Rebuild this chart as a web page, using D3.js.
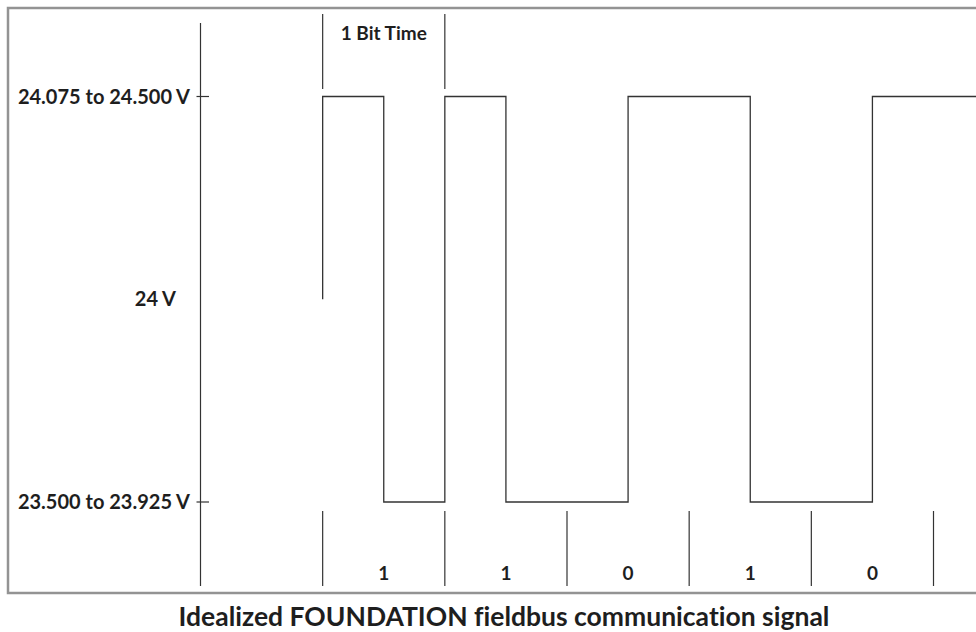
<!DOCTYPE html>
<html>
<head>
<meta charset="utf-8">
<script src="https://cdn.jsdelivr.net/npm/d3@7"></script>
<style>
  body { margin: 0; background: #fff; }
  svg { display: block; }
  .lbl { font-family: "Lato", "DejaVu Sans", sans-serif; font-weight: 700; fill: #1e1e1e; }
  .title { font-family: "Lato", "Open Sans", sans-serif; font-weight: 700; fill: #1e1e1e; font-variant-ligatures: none; }
</style>
</head>
<body>
<div id="chart"></div>
<script>
// voltage levels (nominal values used for placement)
var levelValues = [24.5, 24, 23.5];
var levelLabels = ["24.075 to 24.500 V", "24 V", "23.500 to 23.925 V"];

// bits sent and their labels
var bits = ["1", "1", "0", "1", "0"];

// signal level at each half bit (Manchester coded), starting at bit 0
var halfBitLevels = [24.5, 23.5, 24.5, 23.5, 23.5, 24.5, 24.5, 23.5, 23.5, 24.5, 24.5];
var signalStart = 24;      // signal rises from idle 24 V
var signalEnd = 5.36;      // runs off the right edge

var width = 976, height = 632;

var svg = d3.select("#chart").append("svg")
    .attr("width", width)
    .attr("height", height);

// bit index -> x
var x = d3.scaleLinear().domain([-1, 5]).range([200.5, 933.5]);
// volts -> y
var y = d3.scaleLinear().domain([23.5, 24.5]).range([502, 96.5]);

var ink = "#333";

// frame
svg.append("rect")
    .attr("x", 8).attr("y", 8)
    .attr("width", 1000).attr("height", 585)
    .attr("fill", "none")
    .attr("stroke", "#939393")
    .attr("stroke-width", 2.5);

// left axis line
svg.append("line")
    .attr("x1", x(-1)).attr("x2", x(-1))
    .attr("y1", 23).attr("y2", 586)
    .attr("stroke", ink).attr("stroke-width", 1.2);

// ticks for high / low levels
svg.selectAll(".tick")
    .data([levelValues[0], levelValues[2]])
    .enter().append("line")
    .attr("class", "tick")
    .attr("x1", x(-1) - 4).attr("x2", x(-1) + 8.5)
    .attr("y1", d => y(d)).attr("y2", d => y(d))
    .attr("stroke", ink).attr("stroke-width", 1.2);

// level labels
svg.selectAll(".lvl")
    .data(levelValues)
    .enter().append("text")
    .attr("class", "lbl lvl")
    .attr("x", (d, i) => i == 1 ? 176 : 190)
    .attr("y", d => y(d))
    .attr("dy", "0.35em")
    .attr("text-anchor", "end")
    .style("font-size", "20px")
    .text((d, i) => levelLabels[i]);

// "1 Bit Time" markers
svg.selectAll(".bt")
    .data([0, 1])
    .enter().append("line")
    .attr("class", "bt")
    .attr("x1", d => x(d)).attr("x2", d => x(d))
    .attr("y1", 14).attr("y2", 89)
    .attr("stroke", ink).attr("stroke-width", 1.2);

svg.append("text")
    .attr("class", "lbl")
    .attr("x", x(0.5))
    .attr("y", 33)
    .attr("dy", "0.35em")
    .attr("text-anchor", "middle")
    .style("font-size", "19px")
    .text("1 Bit Time");

// signal waveform
var pts = [{t: 0, v: signalStart}];
halfBitLevels.forEach(function (v, i) {
    pts.push({t: i * 0.5, v: v});
});
pts.push({t: signalEnd, v: halfBitLevels[halfBitLevels.length - 1]});

var line = d3.line()
    .x(d => x(d.t))
    .y(d => y(d.v))
    .curve(d3.curveStepAfter);

svg.append("path")
    .datum(pts)
    .attr("d", line)
    .attr("fill", "none")
    .attr("stroke", ink)
    .attr("stroke-width", 1.3);

// bit boundaries at the bottom
svg.selectAll(".bb")
    .data(d3.range(bits.length + 1))
    .enter().append("line")
    .attr("class", "bb")
    .attr("x1", d => x(d)).attr("x2", d => x(d))
    .attr("y1", 511).attr("y2", 586)
    .attr("stroke", ink).attr("stroke-width", 1.2);

// bit labels
svg.selectAll(".bit")
    .data(bits)
    .enter().append("text")
    .attr("class", "lbl bit")
    .attr("x", (d, i) => x(i + 0.5))
    .attr("y", 573)
    .attr("dy", "0.35em")
    .attr("text-anchor", "middle")
    .style("font-size", "19px")
    .text(d => d);

// caption
svg.append("text")
    .attr("class", "title")
    .attr("x", 504)
    .attr("y", 626)
    .attr("text-anchor", "middle")
    .style("font-size", "26.5px")
    .text("Idealized FOUNDATION fieldbus communication signal");
</script>
</body>
</html>
